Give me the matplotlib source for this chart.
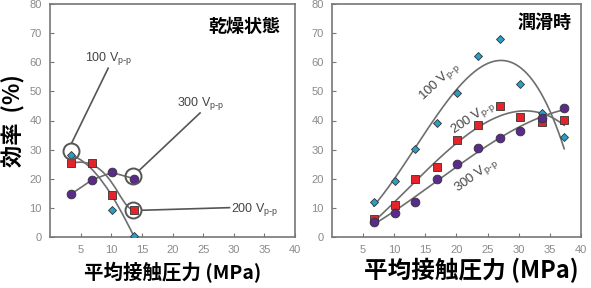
import numpy as np
import matplotlib
matplotlib.use("Agg")
import matplotlib.pyplot as plt
from matplotlib.path import Path
from matplotlib.patches import PathPatch

plt.rcParams['font.family'] = ['Liberation Sans', 'Noto Sans CJK JP']

# dry condition (left)
dry_x = [3.4, 6.9, 10.1, 13.7]
dry_100 = [28.0, None, 9.3, 0.1]
dry_200 = [25.3, 25.5, 14.3, 9.3]
dry_300 = [14.6, 19.6, 22.1, 20.0]

# lubricated (right)
lub_x = [6.7, 10.1, 13.4, 16.8, 20.1, 23.5, 27.0, 30.2, 33.8, 37.3]
lub_100 = [12.0, 19.1, 30.3, 39.0, 49.5, 62.1, 68.1, 52.5, 42.7, 34.3]
lub_200 = [6.0, 10.9, 19.7, 24.0, 33.3, 38.3, 45.0, 41.2, 39.5, 40.2]
lub_300 = [5.2, 8.1, 12.0, 19.8, 25.1, 30.7, 34.0, 36.3, 41.0, 44.4]

xticks = [5, 10, 15, 20, 25, 30, 35, 40]
yticks = [0, 10, 20, 30, 40, 50, 60, 70, 80]

c100 = '#2a9fc6'
c200 = '#e5232a'
c300 = '#5a2a8c'
gline = '#6e6e6e'
gtext = '#8a8a8a'

fig = plt.figure(figsize=(5.91, 2.88), dpi=100)
ax1 = fig.add_axes([50/591, 51.3/288, 245/591, 232.4/288])
ax2 = fig.add_axes([332/591, 51.3/288, 249/591, 232.4/288])

for ax in (ax1, ax2):
    ax.set_xlim(0, 40)
    ax.set_ylim(0, 80)
    ax.set_xticks(xticks)
    ax.set_yticks(yticks)
    ax.tick_params(direction='in', length=3, width=0.8, color='#777777',
                   labelcolor=gtext, labelsize=8, pad=6)
    for s in ax.spines.values():
        s.set_color('#777777')
        s.set_linewidth(1.2)

xlab = '平均接触圧力 (MPa)'
ax1.set_xlabel(xlab, fontsize=14, fontweight='bold', family=['Noto Sans CJK JP'], labelpad=5)
ax2.set_xlabel(xlab, fontsize=17, fontweight='bold', family=['Noto Sans CJK JP'], labelpad=2)
ax2.xaxis.label.set_x(0.558)
ax1.set_ylabel('効率  (%)', fontsize=16, fontweight='bold', family=['Noto Sans CJK JP'], labelpad=3)

mk = dict(markeredgecolor='#333333', markeredgewidth=0.6, zorder=4)
sub = ' V$_{\\mathregular{p\\text{-}p}}$'

# ---- left: dry ----
ax1.plot(dry_x, dry_300, color=gline, lw=1.2, zorder=2)
p100 = Path([(dry_x[0], dry_100[0]), (7.0, 26.0), (10.5, 14.0), (dry_x[3], dry_100[3])],
            [Path.MOVETO, Path.CURVE4, Path.CURVE4, Path.CURVE4])
p200 = Path([(dry_x[0], dry_200[0]), (10.0, 28.5), (11.3, dry_200[3]), (dry_x[3], dry_200[3])],
            [Path.MOVETO, Path.CURVE4, Path.CURVE4, Path.CURVE4])
for p in (p100, p200):
    ax1.add_patch(PathPatch(p, facecolor='none', edgecolor=gline, lw=1.2, zorder=2))

xs100 = [x for x, v in zip(dry_x, dry_100) if v is not None]
ys100 = [v for v in dry_100 if v is not None]
ax1.plot(xs100, ys100, 'D', color=c100, ms=4.5, **mk)
ax1.plot(dry_x, dry_200, 's', color=c200, ms=6.3, **mk)
ax1.plot(dry_x, dry_300, 'o', color=c300, ms=6.3, **mk)

# callout circles
circ_x = [3.4, 13.6, 13.6]
circ_y = [29.4, 21.0, 9.1]
ax1.plot(circ_x, circ_y, 'o', ms=11.5, mfc='none', mec='#555555', mew=1.4, zorder=5)

ax1.plot([3.55, 9.5], [32.3, 58.0], color='#555555', lw=1.2)
ax1.plot([14.7, 24.5], [23.1, 42.6], color='#555555', lw=1.2)
ax1.plot([15.0, 29.3], [9.1, 10.0], color='#555555', lw=1.2)

lab = dict(fontsize=9, color='#444444', va='center')
ax1.text(5.7, 61.5, '100' + sub, **lab)
ax1.text(20.8, 45.7, '300' + sub, **lab)
ax1.text(29.5, 9.3, '200' + sub, **lab)

ax1.text(0.94, 0.905, '乾燥状態', transform=ax1.transAxes, ha='right', va='center',
         fontsize=13, fontweight='bold', family=['Noto Sans CJK JP'])

# ---- right: lubricated ----
xf = np.linspace(lub_x[0], lub_x[-1], 200)
for ys in (lub_100, lub_200, lub_300):
    cf = np.polyfit(lub_x, ys, 3)
    ax2.plot(xf, np.polyval(cf, xf), color=gline, lw=1.2, zorder=2)

ax2.plot(lub_x, lub_100, 'D', color=c100, ms=4.5, **mk)
ax2.plot(lub_x, lub_200, 's', color=c200, ms=6.3, **mk)
ax2.plot(lub_x, lub_300, 'o', color=c300, ms=6.3, **mk)

lab2 = dict(fontsize=9.5, color='#444444', ha='center', va='center', rotation_mode='anchor')
ax2.text(17.3, 53.2, '100' + sub, rotation=43, **lab2)
ax2.text(22.6, 40.9, '200' + sub, rotation=34, **lab2)
ax2.text(23.1, 21.2, '300' + sub, rotation=36, **lab2)

ax2.text(0.963, 0.92, '潤滑時', transform=ax2.transAxes, ha='right', va='center',
         fontsize=13, fontweight='bold', family=['Noto Sans CJK JP'])

fig.savefig('out.png', dpi=100)
